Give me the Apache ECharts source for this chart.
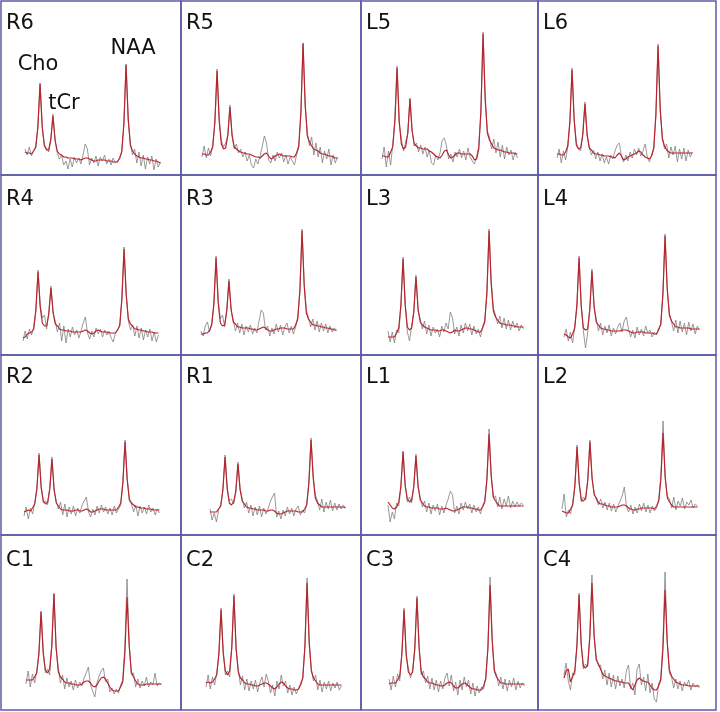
<!DOCTYPE html>
<html>
<head>
<meta charset="utf-8">
<script src="https://cdn.jsdelivr.net/npm/echarts@6/dist/echarts.min.js"></script>
<style>
  html, body { margin: 0; padding: 0; background: #fff; }
  #main { width: 720px; height: 712px; }
</style>
</head>
<body>
<div id="main"></div>
<script>
// panel order: left to right, top to bottom
const panelNames = ['R6', 'R5', 'L5', 'L6', 'R4', 'R3', 'L3', 'L4', 'R2', 'R1', 'L1', 'L2', 'C1', 'C2', 'C3', 'C4']
const peakNames = ['Cho', 'tCr', 'NAA']
const peakIndex = [7, 13, 47]

// fitted spectrum (red) and measured spectrum (grey), 64 samples each, amplitude above baseline
const fitR6 = [9, 8, 8, 7, 10, 14, 35, 77, 34, 16, 11, 11, 21, 45, 21, 10, 7, 6, 4, 4, 3, 3, 3, 2, 2, 2, 1, 2, 3, 3, 2, 1, 0, 0, 1, 1, 1, 1, 0, 0, 0, -1, -1, -1, 3, 9, 38, 96, 43, 16, 10, 7, 5, 4, 3, 3, 2, 2, 1, 1, 0, 0, -1, -2]
const rawR6 = [12, 6, 14, 5, 10, 13, 33, 78, 36, 14, 13, 9, 22, 47, 20, 8, 2, 6, -4, 0, -8, 2, -6, 4, -2, 3, -3, 6, 17, 12, -4, 3, -2, 5, -5, 4, 0, 6, -3, 2, -4, 3, -2, 0, 2, 10, 36, 97, 40, 18, 6, 12, -2, 9, -5, 6, -8, 4, -3, 5, -9, 2, -6, -1]
const fitR5 = [7, 7, 6, 6, 9, 14, 40, 90, 40, 17, 12, 13, 25, 54, 26, 14, 12, 10, 9, 8, 8, 7, 7, 6, 5, 4, 4, 3, 5, 7, 8, 5, 2, 3, 5, 6, 7, 6, 5, 5, 5, 5, 4, 4, 8, 15, 49, 118, 56, 25, 19, 15, 12, 11, 10, 8, 7, 7, 6, 5, 5, 4, 3, 3]
const rawR5 = [4, 15, 3, 13, 5, 16, 38, 92, 42, 20, 14, 18, 26, 56, 24, 12, 17, 8, 12, 4, 9, 0, 6, -4, -7, 2, -3, 5, 14, 25, 18, 1, -2, 6, 0, 9, 3, 8, -1, 6, -3, 4, 0, -4, 6, 14, 47, 117, 55, 28, 15, 24, 6, 18, 4, 14, -2, 10, 2, 12, -4, 6, -2, 4]
const fitL5 = [5, 5, 4, 4, 9, 14, 40, 93, 40, 17, 12, 14, 28, 62, 30, 17, 15, 13, 13, 12, 12, 12, 10, 9, 7, 5, 4, 3, 6, 10, 11, 6, 3, 4, 6, 8, 8, 7, 7, 7, 7, 7, 5, 1, 2, 12, 50, 127, 63, 28, 21, 17, 13, 12, 11, 11, 10, 9, 9, 8, 8, 8, 7, 7]
const rawL5 = [2, 14, -6, 10, -4, 16, 42, 95, 38, 22, 10, 19, 27, 63, 31, 15, 18, 9, 16, 7, 14, 4, 11, -2, -4, 6, 1, 8, 21, 23, 15, 2, 7, -1, 9, 4, 12, 3, 10, 1, 13, 4, 0, -3, 4, 15, 48, 129, 60, 30, 24, 12, 22, 8, 19, 4, 16, 2, 14, 6, 11, 1, 9, 3]
const fitL6 = [7, 7, 6, 6, 9, 15, 40, 91, 40, 16, 12, 13, 26, 57, 27, 13, 11, 8, 7, 7, 6, 6, 5, 5, 5, 4, 4, 3, 6, 8, 5, 1, 2, 4, 5, 6, 7, 8, 10, 9, 6, 4, 3, 2, 5, 13, 47, 115, 53, 22, 15, 11, 9, 8, 8, 8, 8, 8, 8, 8, 8, 8, 8, 8]
const rawL6 = [3, 12, -2, 10, 1, 14, 38, 93, 42, 18, 13, 10, 28, 59, 25, 14, 6, 11, 2, 9, 0, 7, -2, 4, -3, 6, 2, 10, 16, 18, 4, -1, 6, 0, 9, 3, 12, 6, 13, 5, 10, 17, 4, -1, 6, 12, 45, 117, 50, 24, 12, 17, 3, 14, 6, 15, -1, 12, 2, 13, 0, 11, 4, 9]
const fitR4 = [-3, -2, 1, 2, 3, 6, 26, 63, 28, 12, 9, 9, 21, 47, 23, 11, 9, 6, 5, 5, 4, 4, 4, 3, 3, 3, 3, 3, 4, 5, 4, 2, 1, 2, 4, 5, 4, 3, 3, 3, 2, 2, 2, 2, 5, 10, 36, 86, 40, 16, 11, 9, 6, 6, 5, 5, 4, 4, 3, 3, 3, 2, 2, 2]
const rawR4 = [-6, 4, -4, 6, 0, 8, 24, 65, 30, 17, 20, 6, 23, 49, 21, 14, 3, 12, -6, 9, -8, 6, -2, 8, 0, 5, -3, 4, 12, 18, 2, -4, 4, -2, 7, 1, 6, -2, 5, 0, 4, -3, -7, 2, 6, 8, 38, 88, 42, 14, 5, 10, -1, 9, -3, 7, -5, 5, -2, 6, -6, 3, -7, 0]
const fitR3 = [1, 1, 2, 2, 5, 10, 32, 77, 32, 12, 9, 10, 24, 54, 26, 13, 11, 8, 8, 7, 7, 7, 7, 6, 6, 5, 5, 6, 7, 8, 7, 5, 4, 4, 5, 6, 6, 7, 7, 7, 6, 6, 6, 6, 10, 16, 45, 104, 49, 22, 16, 13, 10, 10, 9, 9, 8, 8, 7, 7, 6, 6, 5, 5]
const rawR3 = [4, -1, 9, 13, 3, 12, 30, 79, 35, 16, 20, 8, 26, 56, 24, 15, 4, 12, 2, 11, 0, 9, 3, 10, 1, 7, 2, 14, 25, 22, 5, 9, -1, 7, 1, 11, 3, 10, 0, 8, 12, 2, 9, 1, 8, 18, 43, 106, 52, 25, 17, 8, 16, 5, 14, 3, 12, 4, 11, 2, 9, 3, 7, 4]
const fitL3 = [-2, -2, -2, -2, 2, 7, 30, 76, 30, 8, 5, 7, 23, 58, 26, 13, 10, 8, 7, 6, 5, 5, 5, 4, 4, 5, 5, 4, 3, 2, 3, 5, 4, 4, 5, 6, 7, 7, 6, 6, 5, 4, 3, 3, 7, 13, 43, 104, 51, 24, 18, 15, 12, 11, 11, 10, 10, 10, 9, 9, 8, 8, 8, 8]
const rawL3 = [4, -7, 3, -8, 5, 2, 28, 78, 32, 3, -6, 9, 24, 60, 24, 16, 6, 14, 1, 10, -1, 8, 2, 6, -2, 9, 3, 12, 6, 23, 17, 1, 8, -1, 10, 2, 12, 4, 11, 0, 9, 1, 6, -2, 8, 15, 40, 106, 54, 27, 20, 11, 19, 7, 17, 6, 15, 5, 14, 7, 12, 4, 10, 6]
const fitL4 = [1, 0, -2, -3, 1, 7, 30, 77, 29, 7, 5, 6, 25, 64, 29, 13, 10, 7, 6, 6, 5, 5, 4, 4, 4, 4, 4, 5, 5, 5, 4, 3, 2, 2, 3, 3, 3, 3, 2, 2, 2, 2, 1, 1, 5, 11, 40, 99, 47, 20, 14, 11, 8, 8, 7, 7, 7, 7, 7, 6, 6, 6, 6, 6]
const rawL4 = [-2, 6, -6, 3, -8, 9, 28, 79, 31, 4, -13, 2, 27, 66, 27, 16, 4, 12, 0, 9, 2, 10, -1, 7, 1, 8, 12, 3, 14, 18, 6, -2, 5, -3, 8, 0, 6, -1, 9, 2, 5, -2, 3, 0, 7, 9, 42, 101, 45, 22, 13, 4, 15, 2, 14, 3, 12, 0, 13, 4, 11, 1, 9, 5]
const fitR2 = [3, 4, 5, 4, 7, 11, 27, 60, 27, 14, 11, 13, 26, 56, 26, 12, 9, 6, 5, 5, 5, 4, 4, 4, 5, 5, 4, 4, 5, 6, 5, 3, 3, 4, 5, 6, 6, 6, 5, 5, 5, 5, 5, 5, 8, 12, 32, 73, 35, 16, 12, 10, 8, 8, 7, 7, 7, 6, 6, 6, 5, 5, 5, 5]
const rawR2 = [-1, 8, -4, 7, 1, 12, 25, 62, 29, 12, 14, 10, 28, 58, 24, 14, 6, 13, 0, 11, -2, 8, 1, 9, -1, 7, 2, 10, 14, 18, 3, -2, 6, 0, 9, 2, 10, 3, 8, 1, 7, 0, 9, 2, 6, 10, 34, 75, 37, 14, 11, 3, 10, -1, 9, 2, 8, 1, 10, 3, 7, 0, 6, 2]
const fitR1 = [3, 3, 3, 3, 6, 9, 26, 58, 26, 12, 10, 13, 24, 51, 25, 14, 11, 8, 7, 7, 6, 6, 5, 5, 5, 5, 4, 4, 5, 5, 4, 2, 1, 1, 2, 3, 4, 4, 4, 4, 4, 3, 3, 3, 6, 10, 32, 75, 37, 17, 12, 10, 8, 8, 8, 8, 8, 8, 8, 8, 8, 8, 8, 7]
const rawR1 = [6, -5, 2, -7, 5, 10, 24, 60, 28, 14, 16, 11, 22, 53, 27, 16, 7, 13, 2, 10, -1, 8, 0, 9, -2, 7, 1, 6, 13, 18, 22, -2, 4, -4, 5, -1, 8, 1, 7, -1, 6, 9, 0, 5, 2, 11, 34, 77, 39, 20, 14, 5, 16, 3, 13, 6, 15, 4, 12, 5, 11, 6, 10, 8]
const fitL1 = [13, 10, 7, 6, 8, 13, 29, 63, 29, 16, 13, 15, 28, 59, 29, 15, 12, 9, 8, 8, 7, 7, 7, 7, 6, 6, 6, 7, 6, 5, 4, 4, 5, 6, 7, 8, 8, 8, 7, 7, 6, 6, 5, 5, 8, 13, 35, 81, 39, 18, 14, 11, 9, 9, 9, 9, 9, 9, 9, 9, 9, 9, 9, 9]
const rawL1 = [10, -7, 3, -4, 12, 9, 27, 64, 31, 13, 18, 12, 30, 61, 27, 18, 8, 14, 3, 12, 1, 10, 4, 11, 0, 9, 2, 10, 16, 24, 20, 2, 9, 1, 12, 5, 13, 6, 11, 2, 10, 3, 8, 1, 9, 14, 37, 86, 40, 17, 19, 8, 18, 6, 16, 9, 19, 7, 14, 8, 13, 9, 12, 10]
const fitL2 = [4, 3, 2, 2, 6, 10, 30, 68, 31, 15, 14, 17, 35, 73, 37, 20, 17, 12, 11, 11, 10, 9, 9, 8, 8, 8, 8, 9, 10, 10, 9, 7, 6, 5, 5, 6, 6, 7, 7, 7, 7, 7, 7, 6, 9, 14, 36, 82, 38, 17, 13, 10, 8, 8, 8, 8, 8, 8, 8, 8, 8, 8, 8, 8]
const rawL2 = [6, 21, -2, 5, 1, 13, 28, 70, 33, 13, 18, 15, 36, 75, 35, 22, 15, 10, 16, 7, 13, 5, 12, 4, 11, 3, 9, 14, 19, 28, 8, 3, 10, 1, 8, 2, 11, 4, 12, 3, 10, 2, 9, 4, 7, 16, 40, 94, 36, 19, 16, 7, 18, 5, 14, 9, 17, 6, 13, 10, 15, 7, 11, 9]
const fitC1 = [15, 15, 15, 15, 18, 22, 42, 83, 42, 25, 22, 26, 49, 101, 48, 24, 18, 16, 13, 12, 12, 11, 11, 10, 10, 10, 11, 13, 14, 14, 12, 9, 8, 10, 14, 17, 18, 16, 12, 8, 5, 4, 4, 4, 8, 13, 42, 98, 49, 23, 18, 14, 11, 10, 10, 10, 11, 11, 11, 11, 11, 11, 11, 11]
const rawC1 = [11, 24, 8, 21, 12, 24, 40, 84, 45, 22, 26, 20, 50, 102, 46, 27, 12, 20, 6, 17, 8, 14, 5, 15, 7, 13, 9, 17, 22, 28, 10, 4, -2, 12, 19, 24, 27, 13, 16, 3, 7, 1, 6, 2, 10, 15, 50, 116, 52, 20, 22, 8, 16, 7, 14, 9, 18, 8, 13, 10, 22, 9, 12, 10]
const fitC2 = [12, 13, 12, 13, 16, 20, 42, 85, 42, 24, 20, 24, 47, 99, 47, 23, 17, 15, 12, 11, 11, 10, 10, 9, 9, 10, 11, 12, 12, 11, 9, 7, 6, 8, 11, 13, 12, 9, 7, 6, 6, 5, 5, 6, 10, 17, 48, 112, 53, 24, 17, 14, 11, 10, 10, 10, 10, 10, 10, 10, 10, 10, 10, 10]
const rawC2 = [8, 20, 6, 18, 10, 22, 40, 87, 44, 20, 24, 18, 49, 101, 45, 26, 10, 19, 5, 16, 4, 14, 6, 15, 3, 12, 18, 8, 21, 14, 2, 10, -1, 14, 6, 20, 9, 14, 2, 10, 0, 8, 1, 6, 12, 16, 50, 117, 50, 26, 14, 20, 5, 15, 3, 13, 6, 14, 4, 12, 7, 13, 5, 9]
const fitC3 = [11, 12, 12, 12, 15, 19, 41, 85, 41, 23, 20, 23, 47, 97, 47, 23, 18, 16, 13, 12, 12, 11, 10, 10, 9, 9, 10, 12, 13, 12, 9, 7, 7, 9, 11, 12, 11, 9, 7, 6, 6, 5, 5, 5, 9, 16, 47, 110, 54, 25, 18, 15, 12, 12, 11, 11, 11, 11, 11, 11, 11, 11, 11, 11]
const rawC3 = [16, 5, 19, 8, 21, 14, 43, 87, 39, 27, 17, 25, 45, 99, 49, 20, 24, 12, 19, 6, 17, 5, 15, 3, 14, 6, 17, 22, 9, 20, 4, 13, 0, 15, 5, 18, 8, 15, 1, 12, -1, 9, 2, 8, 6, 18, 46, 118, 57, 22, 21, 9, 18, 6, 16, 4, 15, 8, 17, 5, 14, 7, 12, 9]
const fitC4 = [17, 24, 26, 13, 18, 24, 49, 100, 50, 29, 27, 30, 57, 112, 60, 35, 31, 26, 21, 19, 18, 17, 16, 15, 14, 14, 13, 13, 12, 12, 12, 8, 5, 10, 15, 17, 15, 14, 13, 13, 10, 7, 5, 5, 9, 15, 45, 105, 53, 25, 19, 16, 13, 12, 11, 10, 10, 10, 9, 9, 9, 9, 9, 9]
const rawC4 = [20, 32, 14, 5, 22, 20, 48, 102, 52, 26, 31, 28, 60, 120, 58, 38, 29, 30, 16, 25, 10, 22, 8, 20, 6, 19, 9, 16, 7, 24, 30, 6, 12, 0, 26, 31, 10, 18, 4, 21, 2, 12, -4, -7, 11, 16, 52, 123, 55, 22, 18, 7, 16, 6, 14, 4, 13, 9, 15, 5, 12, 8, 10, 7]

const fits = [fitR6, fitR5, fitL5, fitL6, fitR4, fitR3, fitL3, fitL4, fitR2, fitR1, fitL1, fitL2, fitC1, fitC2, fitC3, fitC4]
const raws = [rawR6, rawR5, rawL5, rawL6, rawR4, rawR3, rawL3, rawL4, rawR2, rawR1, rawL1, rawL2, rawC1, rawC2, rawC3, rawC4]

// layout
const colX = [1, 181, 361, 538, 716]
const rowY = [1, 175, 355, 535, 710]
const labelTop = [12, 14, 12, 15] // panel label offset per row
const startX = [24, 21, 21, 19, 22, 20, 27, 26, 23, 29, 27, 24, 25, 25, 28, 26] // px from panel edge to first sample
const DX = 2.15 // px per sample
const REF = 160 // px from panel top to zero amplitude
const FONT = 'DejaVu Sans'
const FONT_SIZE = 21
const LINE_COLOR = '#5b5ba8'
const peakLabelOffset = [[-2, -9], [11, -2], [7, -6]]

const chart = echarts.init(document.getElementById('main'), null, { renderer: 'canvas' })

const grid = []
const xAxis = []
const yAxis = []
const title = []
const series = []

panelNames.forEach((name, k) => {
  const c = k % 4
  const r = Math.floor(k / 4)
  const w = colX[c + 1] - colX[c]
  const h = rowY[r + 1] - rowY[r]

  grid.push({
    left: colX[c],
    top: rowY[r],
    width: w,
    height: h,
    show: true,
    borderColor: LINE_COLOR,
    borderWidth: 1.5,
    backgroundColor: 'transparent'
  })
  xAxis.push({ type: 'value', gridIndex: k, show: false, min: -startX[k] / DX, max: (w - startX[k]) / DX })
  yAxis.push({ type: 'value', gridIndex: k, show: false, min: REF - h, max: REF })

  title.push({
    text: name,
    left: colX[c] + 5,
    top: rowY[r] + labelTop[r],
    padding: 0,
    textStyle: { fontFamily: FONT, fontSize: FONT_SIZE, fontWeight: 'normal', color: '#111' }
  })

  series.push({
    type: 'line',
    xAxisIndex: k,
    yAxisIndex: k,
    data: raws[k].map((v, i) => [i, v]),
    symbol: 'none',
    silent: true,
    z: 2,
    lineStyle: { color: '#808080', width: 0.8 }
  })

  const fitSeries = {
    type: 'line',
    xAxisIndex: k,
    yAxisIndex: k,
    data: fits[k].map((v, i) => [i, v]),
    symbol: 'none',
    silent: true,
    z: 3,
    lineStyle: { color: '#b8232c', width: 1.2 }
  }
  // peak names only in the first panel
  if (k === 0) {
    fitSeries.markPoint = {
      symbol: 'circle',
      symbolSize: 0,
      silent: true,
      data: peakIndex.map((idx, p) => ({
        coord: [idx, fits[k][idx]],
        label: {
          show: true,
          formatter: peakNames[p],
          position: 'top',
          distance: 0,
          offset: peakLabelOffset[p],
          fontFamily: FONT,
          fontSize: FONT_SIZE,
          color: '#111'
        }
      }))
    }
  }
  series.push(fitSeries)
})

chart.setOption({
  animation: false,
  backgroundColor: '#fff',
  title,
  grid,
  xAxis,
  yAxis,
  series
})
</script>
</body>
</html>
